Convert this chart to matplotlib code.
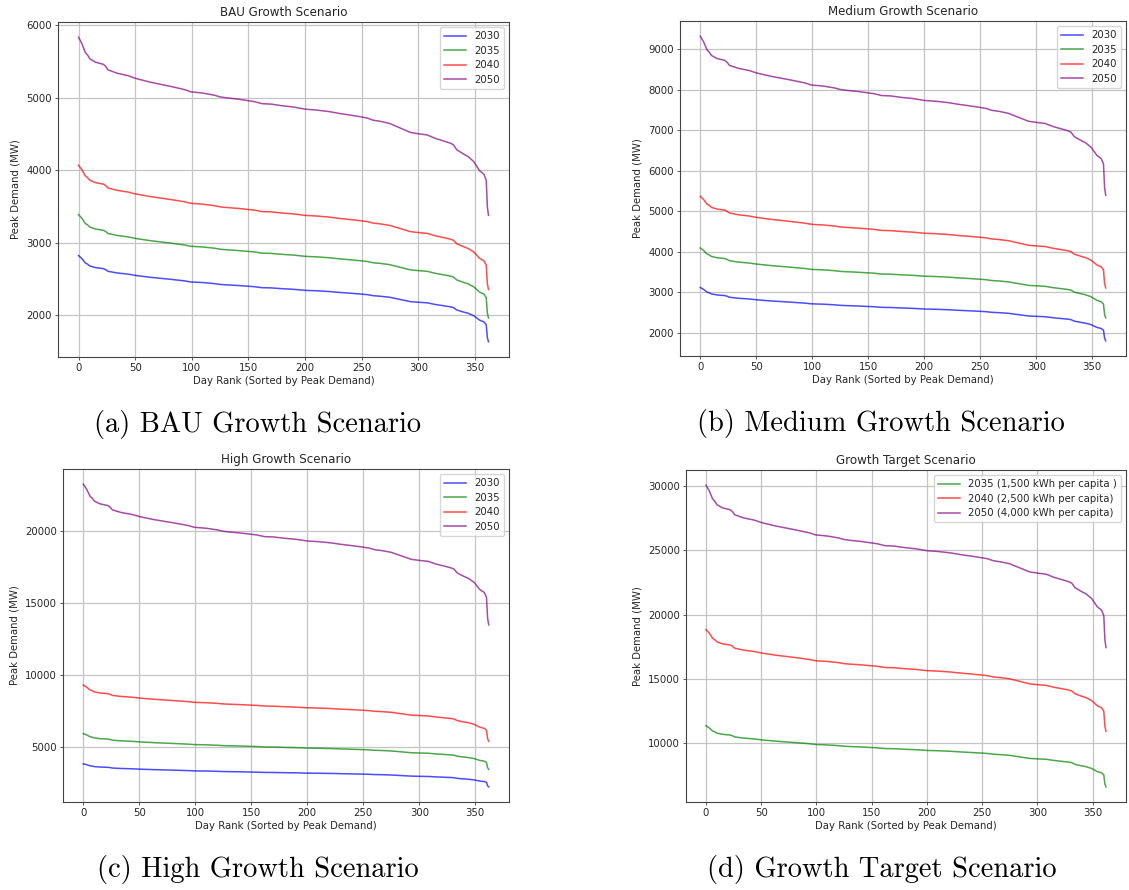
import matplotlib
matplotlib.use("Agg")
import matplotlib.pyplot as plt
import numpy as np

# Day rank (0 = highest-demand day) and the shared load-duration shape,
# expressed as a fraction of each year's annual peak demand.
RANK = [0, 3, 6, 8, 10, 15, 22, 24, 26, 34, 44, 50, 63, 81, 94, 99, 110, 120,
        125, 130, 140, 150, 155, 162, 170, 180, 190, 200, 210, 222, 230, 240,
        249, 255, 260, 267, 275, 281, 293, 300, 308, 315, 328, 331, 334, 340,
        344, 349, 354, 358, 360, 361, 362]
SHAPE = [1.000, 0.985, 0.964, 0.958, 0.949, 0.941, 0.936, 0.931, 0.923, 0.915,
         0.909, 0.903, 0.894, 0.884, 0.876, 0.871, 0.868, 0.863, 0.859, 0.857,
         0.854, 0.850, 0.848, 0.843, 0.842, 0.838, 0.835, 0.830, 0.828, 0.824,
         0.820, 0.816, 0.812, 0.809, 0.804, 0.801, 0.796, 0.789, 0.775, 0.772,
         0.769, 0.761, 0.750, 0.746, 0.734, 0.724, 0.718, 0.706, 0.685, 0.676,
         0.662, 0.599, 0.579]

# Annual peak demand (MW) per scenario and year
YEARS = ["2030", "2035", "2040", "2050"]
BAU_PEAK = [2825, 3390, 4070, 5835]
MEDIUM_PEAK = [3120, 4095, 5370, 9315]
HIGH_PEAK = [3805, 5905, 9280, 23260]

TARGET_LABELS = ["2035 (1,500 kWh per capita )",
                 "2040 (2,500 kWh per capita)",
                 "2050 (4,000 kWh per capita)"]
TARGET_PEAK = [11330, 18830, 30100]

YEAR_COLORS = {"2030": "blue", "2035": "green", "2040": "red", "2050": "purple"}
TARGET_COLORS = ["green", "red", "purple"]

W, H = 1129, 890
fig = plt.figure(figsize=(W / 100, H / 100), dpi=100)
fig.patch.set_facecolor("white")

TICK_FS = 7.3
LABEL_FS = 7.3
TITLE_FS = 8.6
TEXT_COLOR = "#262626"


def px_axes(left, top, right, bottom):
    return fig.add_axes([left / W, 1 - bottom / H, (right - left) / W, (bottom - top) / H])


def draw_panel(ax, title, labels, peaks, colors):
    shape = np.array(SHAPE)
    for lab, pk, col in zip(labels, peaks, colors):
        ax.plot(RANK, pk * shape, color=col, alpha=0.7, lw=1.1, label=lab)
    ax.set_title(title, fontsize=TITLE_FS, pad=4, color=TEXT_COLOR)
    ax.set_xlabel("Day Rank (Sorted by Peak Demand)", fontsize=LABEL_FS,
                  labelpad=2, color=TEXT_COLOR)
    ax.set_ylabel("Peak Demand (MW)", fontsize=LABEL_FS, labelpad=4, color=TEXT_COLOR)
    ax.tick_params(labelsize=TICK_FS, length=2.5, width=0.6, pad=2,
                   labelcolor=TEXT_COLOR, color="#444444")
    ax.grid(True, color="#c4c4c4", lw=0.9)
    for s in ax.spines.values():
        s.set_linewidth(0.8)
        s.set_color("#444444")
    leg = ax.legend(loc="upper right", fontsize=TICK_FS, handlelength=2.2,
                    borderpad=0.4, labelspacing=0.45)
    for t in leg.get_texts():
        t.set_color(TEXT_COLOR)


ax_a = px_axes(58, 22, 509, 357)
draw_panel(ax_a, "BAU Growth Scenario", YEARS, BAU_PEAK,
           [YEAR_COLORS[y] for y in YEARS])

ax_b = px_axes(680, 21, 1126, 356)
draw_panel(ax_b, "Medium Growth Scenario", YEARS, MEDIUM_PEAK,
           [YEAR_COLORS[y] for y in YEARS])

ax_c = px_axes(63, 469, 509, 802)
draw_panel(ax_c, "High Growth Scenario", YEARS, HIGH_PEAK,
           [YEAR_COLORS[y] for y in YEARS])

ax_d = px_axes(686, 470, 1126, 802)
draw_panel(ax_d, "Growth Target Scenario", TARGET_LABELS, TARGET_PEAK, TARGET_COLORS)

# Sub-figure captions
CAP_FS = 20.5
for text, x, y in [("(a) BAU Growth Scenario", 258, 425),
                   ("(b) Medium Growth Scenario", 881, 424),
                   ("(c) High Growth Scenario", 258, 870),
                   ("(d) Growth Target Scenario", 882, 870)]:
    fig.text(x / W, 1 - y / H, text, ha="center", va="center",
             fontsize=CAP_FS, family="cmr10")

fig.savefig("out.png", dpi=100)
